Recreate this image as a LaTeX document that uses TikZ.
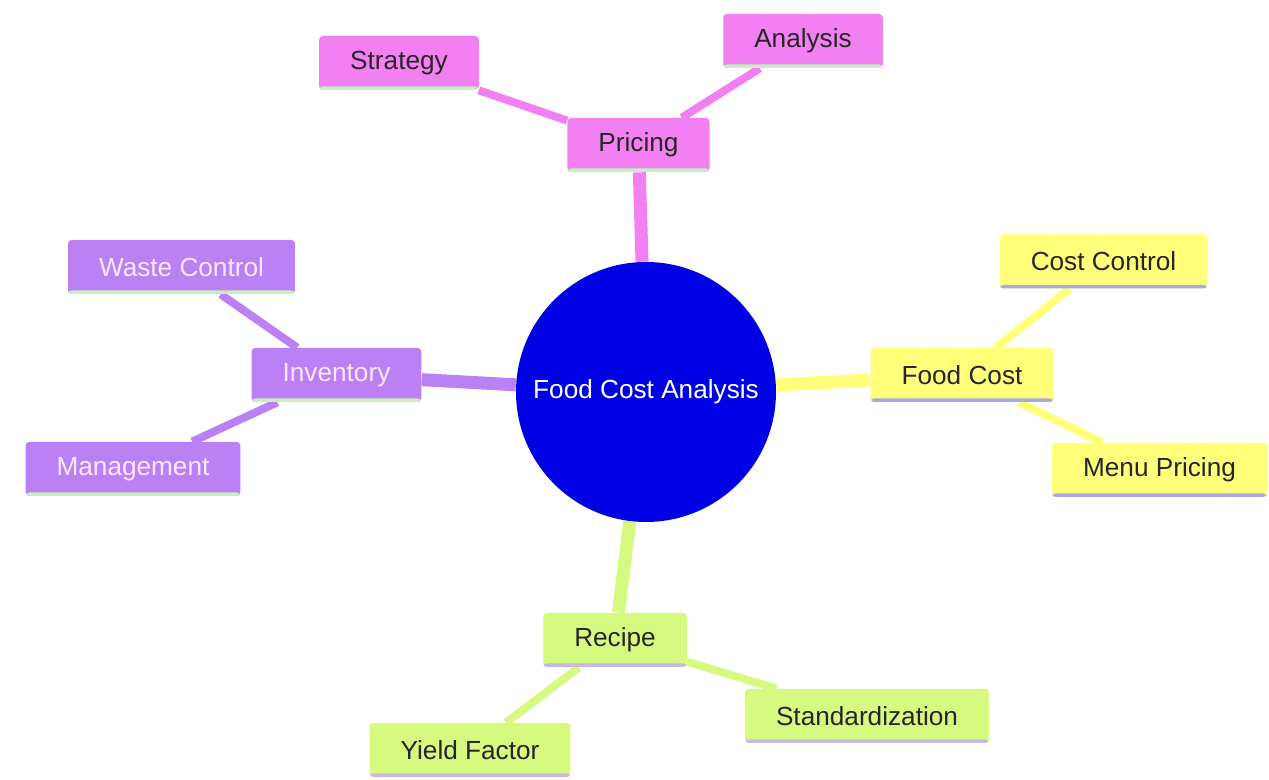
\documentclass[tikz,border=0pt]{standalone}
\usepackage{fontspec}
\setmainfont{Liberation Sans}
\usetikzlibrary{backgrounds}

\definecolor{rootblue}{RGB}{0,0,228}
\definecolor{pinkfill}{RGB}{242,128,242}
\definecolor{purplefill}{RGB}{186,128,244}
\definecolor{yellowfill}{RGB}{255,255,122}
\definecolor{limefill}{RGB}{214,249,128}
\definecolor{greenline}{RGB}{200,240,190}
\definecolor{blueline}{RGB}{168,168,228}
\definecolor{lilacline}{RGB}{200,184,232}
\definecolor{pinktext}{RGB}{255,232,255}

\begin{document}
\begin{tikzpicture}[
  box/.style = {rectangle, rounded corners=2pt, minimum height=1.08cm,
                inner xsep=0.62cm, font=\fontsize{14.9pt}{17pt}\selectfont},
  stripe/.style = {path picture={\fill[#1]
                ([yshift=0.07cm]path picture bounding box.south west)
                rectangle (path picture bounding box.south east);}},
  pricing/.style = {box, fill=pinkfill, text=black!85, stripe=greenline},
  stock/.style   = {box, fill=purplefill, text=pinktext, stripe=greenline},
  cost/.style    = {box, fill=yellowfill, text=black!85, stripe=blueline},
  recipe/.style  = {box, fill=limefill, text=black!85, stripe=lilacline},
  trunk/.style   = {line width=0.26cm},
  twig/.style    = {line width=0.16cm}
]
\useasboundingbox (0,0) rectangle (25.38,15.6);

% centre
\node[circle, fill=rootblue, minimum size=5.2cm, text=white,
      font=\fontsize{14.9pt}{17pt}\selectfont] (root) at (12.92,7.76) {Food Cost Analysis};

% pricing branch
\node[pricing] (price)    at (12.77,12.70) {Pricing};
\node[pricing] (strategy) at (7.98,14.34)  {Strategy};
\node[pricing] (analysis) at (16.06,14.78) {Analysis};

% inventory branch
\node[stock] (inventory) at (6.73,8.10)  {Inventory};
\node[stock] (waste)     at (3.63,10.26) {Waste Control};
\node[stock] (manage)    at (2.66,6.22)  {Management};

% food cost branch
\node[cost] (foodcost) at (19.24,8.10)  {Food Cost};
\node[cost] (control)  at (22.07,10.37) {Cost Control};
\node[cost] (menu)     at (23.19,6.20)  {Menu Pricing};

% recipe branch
\node[recipe] (recipe) at (12.30,2.80) {Recipe};
\node[recipe] (standard) at (17.34,1.28) {Standardization};
\node[recipe] (yield)    at (9.40,0.60)  {Yield Factor};

\begin{scope}[on background layer]
\draw[trunk, pinkfill]   (root) -- (price);
\draw[trunk, purplefill] (root) -- (inventory);
\draw[trunk, yellowfill] (root) -- (foodcost);
\draw[trunk, limefill]   (root) -- (recipe);

\draw[twig, pinkfill]   (price) -- (strategy);
\draw[twig, pinkfill]   (price) -- (analysis);
\draw[twig, purplefill] (inventory) -- (waste);
\draw[twig, purplefill] (inventory) -- (manage);
\draw[twig, yellowfill] (foodcost) -- (control);
\draw[twig, yellowfill] (foodcost) -- (menu);
\draw[twig, limefill]   (recipe) -- (standard);
\draw[twig, limefill]   (recipe) -- (yield);
\end{scope}
\end{tikzpicture}
\end{document}
